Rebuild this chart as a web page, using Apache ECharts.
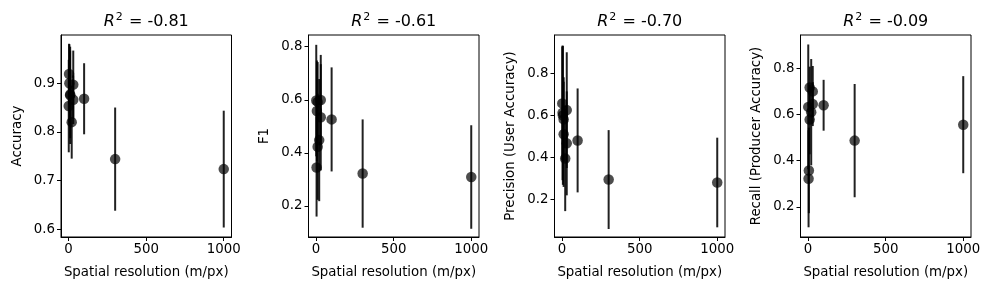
<!DOCTYPE html>
<html>
<head>
<meta charset="utf-8">
<script src="https://cdn.jsdelivr.net/npm/echarts@6/dist/echarts.min.js"></script>
<style>
html,body{margin:0;padding:0;background:#fff;}
#chart{width:989px;height:290px;}
</style>
</head>
<body>
<div id="chart"></div>
<script>
// Spatial resolution (m/px) of each dataset
const resolution = [1, 3, 5, 10, 10, 20, 30, 30, 100, 300, 1000];

const accuracy      = [0.853, 0.919, 0.900, 0.877, 0.875, 0.820, 0.897, 0.866, 0.868, 0.744, 0.7235];
const accuracyErr   = [0.095, 0.062, 0.080, 0.090, 0.100, 0.075, 0.070, 0.050, 0.073, 0.106, 0.120];

const f1            = [0.597, 0.345, 0.558, 0.423, 0.592, 0.448, 0.599, 0.534, 0.526, 0.322, 0.309];
const f1Err         = [0.210, 0.185, 0.190, 0.200, 0.150, 0.230, 0.170, 0.200, 0.196, 0.204, 0.195];

const precision     = [0.657, 0.612, 0.600, 0.581, 0.510, 0.395, 0.625, 0.467, 0.481, 0.295, 0.281];
const precisionErr  = [0.270, 0.320, 0.330, 0.200, 0.250, 0.250, 0.275, 0.247, 0.247, 0.235, 0.213];

const recall        = [0.633, 0.322, 0.358, 0.717, 0.578, 0.610, 0.700, 0.645, 0.640, 0.487, 0.556];
const recallErr     = [0.270, 0.210, 0.185, 0.090, 0.150, 0.230, 0.110, 0.095, 0.110, 0.245, 0.210];

const r2Labels = ['-0.81', '-0.61', '-0.70', '-0.09'];
const yNames = ['Accuracy', 'F1', 'Precision (User Accuracy)', 'Recall (Producer Accuracy)'];
const xName = 'Spatial resolution (m/px)';
const xTicks = [0, 500, 1000];
const yTicks = [[0.6, 0.7, 0.8, 0.9], [0.2, 0.4, 0.6, 0.8], [0.2, 0.4, 0.6, 0.8], [0.2, 0.4, 0.6, 0.8]];
const yRanges = [[0.584, 0.999], [0.083, 0.844], [0.022, 0.982], [0.070, 0.944]];
const xRange = [-49, 1050];

const panels = [
  [accuracy, accuracyErr],
  [f1, f1Err],
  [precision, precisionErr],
  [recall, recallErr]
];

const FONT = 'DejaVu Sans';
const INK = 'rgba(0,0,0,0.87)';
const lefts = [61, 308.5, 554.5, 800.5];
const W = 170.5, TOP = 35, H = 202;

const grid = [], xAxis = [], yAxis = [], series = [], title = [];
panels.forEach((p, i) => {
  grid.push({left: lefts[i], top: TOP, width: W, height: H, show: true, borderColor: '#000', borderWidth: 1, backgroundColor: 'transparent', containLabel: false});
  xAxis.push({
    type: 'value', gridIndex: i, min: xRange[0], max: xRange[1],
    name: xName, nameLocation: 'middle', nameGap: 29,
    nameTextStyle: {fontFamily: FONT, fontSize: 13.33, color: '#000'},
    axisLine: {show: true, onZero: false, lineStyle: {color: '#000', width: 1}},
    axisTick: {show: true, length: 4, customValues: xTicks, lineStyle: {color: '#000'}},
    axisLabel: {customValues: xTicks, margin: 6, fontFamily: FONT, fontSize: 13.33, color: '#000', formatter: v => String(v)},
    splitLine: {show: false}
  });
  yAxis.push({
    type: 'value', gridIndex: i, min: yRanges[i][0], max: yRanges[i][1],
    name: yNames[i], nameLocation: 'middle', nameGap: 37,
    nameTextStyle: {fontFamily: FONT, fontSize: 13.33, color: '#000'},
    axisLine: {show: true, onZero: false, lineStyle: {color: '#000', width: 1}},
    axisTick: {show: true, length: 4, customValues: yTicks[i], lineStyle: {color: '#000'}},
    axisLabel: {customValues: yTicks[i], margin: 6, fontFamily: FONT, fontSize: 13.33, color: '#000', formatter: v => v.toFixed(1)},
    splitLine: {show: false}
  });
  const vals = p[0], errs = p[1];
  const data = resolution.map((x, k) => [x, vals[k], errs[k]]);
  series.push({
    type: 'custom', xAxisIndex: i, yAxisIndex: i, data: data,
    encode: {x: 0, y: 1},
    silent: true, z: 2,
    renderItem: function (params, api) {
      const x = api.value(0), y = api.value(1), e = api.value(2);
      const a = api.coord([x, y - e]);
      const b = api.coord([x, y + e]);
      return {type: 'line', shape: {x1: a[0], y1: a[1], x2: b[0], y2: b[1]}, style: {stroke: INK, lineWidth: 2}};
    }
  });
  series.push({
    type: 'scatter', xAxisIndex: i, yAxisIndex: i, data: data.map(d => [d[0], d[1]]),
    symbol: 'circle', symbolSize: 10.5, itemStyle: {color: INK}, z: 3, silent: true
  });
  title.push({
    text: '{r|R}{s|2}{t| = ' + r2Labels[i] + '}',
    left: lefts[i] + W / 2, top: 12, textAlign: 'center', padding: 0,
    textStyle: {
      fontWeight: 'normal',
      rich: {
        r: {fontFamily: FONT, fontSize: 16, fontStyle: 'italic', fontWeight: 'normal', color: '#000', verticalAlign: 'bottom'},
        s: {fontFamily: FONT, fontSize: 11, fontWeight: 'normal', color: '#000', verticalAlign: 'bottom', padding: [0, 1, 7, 1]},
        t: {fontFamily: FONT, fontSize: 16, fontWeight: 'normal', color: '#000', verticalAlign: 'bottom'}
      }
    }
  });
});

const chart = echarts.init(document.getElementById('chart'), null, {renderer: 'canvas'});
chart.setOption({animation: false, backgroundColor: '#fff', title, grid, xAxis, yAxis, series});
</script>
</body>
</html>
